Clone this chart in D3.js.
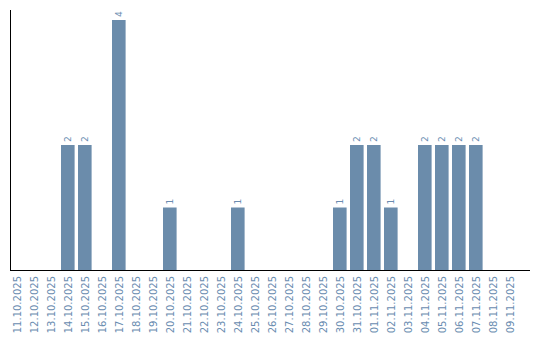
<!DOCTYPE html>
<html><head><meta charset="utf-8">
<script src="https://cdn.jsdelivr.net/npm/d3@7"></script>
<style>body{margin:0;background:#fff}svg{display:block}</style>
</head><body><svg id="c" width="540" height="340"></svg>
<script>
const dates = ["11.10.2025","12.10.2025","13.10.2025","14.10.2025","15.10.2025","16.10.2025","17.10.2025","18.10.2025","19.10.2025","20.10.2025","21.10.2025","22.10.2025","23.10.2025","24.10.2025","25.10.2025","26.10.2025","27.10.2025","28.10.2025","29.10.2025","30.10.2025","31.10.2025","01.11.2025","02.11.2025","03.11.2025","04.11.2025","05.11.2025","06.11.2025","07.11.2025","08.11.2025","09.11.2025"];
const counts = [0,0,0,2,2,0,4,0,0,1,0,0,0,1,0,0,0,0,0,1,2,2,1,0,2,2,2,2,0,0];
const yMax = 4;

const svg = d3.select("#c");
const color = "#6b8cab";
const textColor = "#6a8cb0";
const x = d3.scaleBand().domain(dates).range([10, 10 + 17 * (dates.length - 0.2)]).paddingInner(0.2).paddingOuter(0);
const y = d3.scaleLinear().domain([0, yMax]).range([270, 20]);
const data = dates.map((d, i) => ({d, v: counts[i]}));

svg.selectAll("rect.bar").data(data.filter(e => e.v > 0)).join("rect")
  .attr("class", "bar")
  .attr("x", e => x(e.d)).attr("width", x.bandwidth())
  .attr("y", e => y(e.v)).attr("height", e => y(0) - y(e.v))
  .attr("fill", color);

svg.selectAll("text.val").data(data.filter(e => e.v > 0)).join("text")
  .attr("class", "val")
  .attr("transform", e => `translate(${x(e.d) + x.bandwidth() / 2 + 3},${y(e.v) - 3}) rotate(-90)`)
  .attr("font-family", "DejaVu Sans").attr("font-size", 9)
  .attr("fill", textColor).text(e => e.v);

// axes
const xAxis = svg.append("g").attr("transform", "translate(0,270)")
  .call(d3.axisBottom(x).tickSize(0).tickPadding(0));
xAxis.select(".domain").remove();
xAxis.selectAll("text")
  .attr("font-family", "DejaVu Sans").attr("font-size", 10)
  .attr("fill", textColor)
  .attr("text-anchor", "end").attr("dy", null)
  .attr("transform", "translate(4,6) rotate(-90)")
  .attr("y", 0).attr("x", 0);

svg.append("line").attr("x1", 10.5).attr("x2", 10.5).attr("y1", 10).attr("y2", 270.5)
  .attr("stroke", "#000").attr("stroke-width", 1);
svg.append("line").attr("x1", 10).attr("x2", 530).attr("y1", 270.5).attr("y2", 270.5)
  .attr("stroke", "#000").attr("stroke-width", 1);
</script></body></html>
